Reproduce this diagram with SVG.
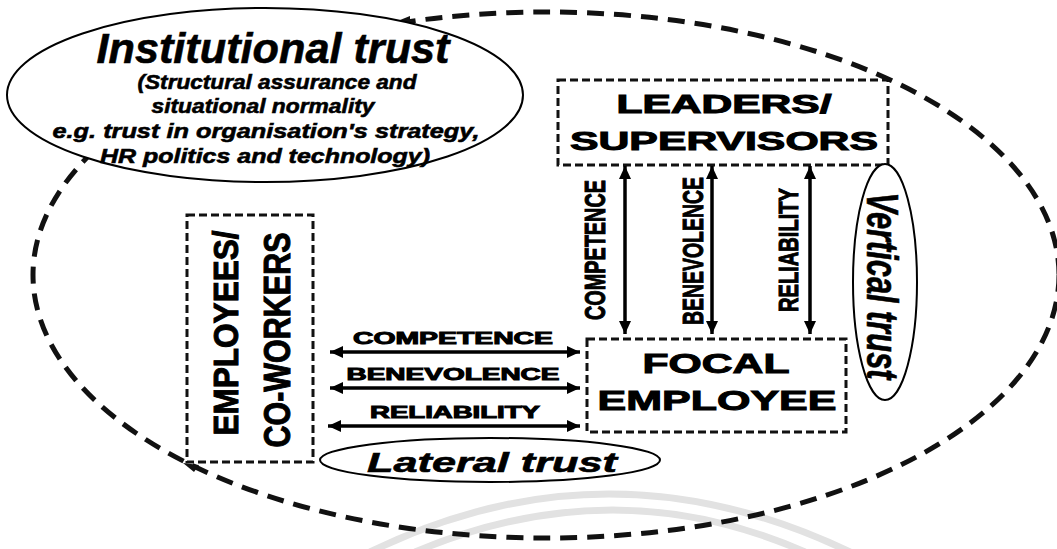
<svg xmlns="http://www.w3.org/2000/svg" width="1057" height="549" viewBox="0 0 1057 549">
<style>
  .bg{fill:#fff}
  .water{fill:none;stroke:#e2e2e2;stroke-width:7}
  .big{fill:none;stroke:#111;stroke-width:5;stroke-dasharray:17 10}
  .box{fill:none;stroke:#111;stroke-width:3;stroke-dasharray:8 4}
  .oval{fill:#fff;stroke:#000;stroke-width:2}
  .arrow{fill:none;stroke:#000;stroke-width:3.5;marker-start:url(#ah);marker-end:url(#ah)}
  .t{font-family:"Liberation Sans",Arial,sans-serif;fill:#000}
  .bi{font-weight:bold;font-style:italic;stroke:#000;stroke-width:0.6}
  .b{font-weight:bold;stroke:#000;stroke-width:1}
</style>
<defs>
  <marker id="ah" markerUnits="userSpaceOnUse" markerWidth="14" markerHeight="12" refX="13" refY="6" orient="auto-start-reverse">
    <path d="M0,0 L13,6 L0,12 Z" fill="#000"/>
  </marker>
</defs>
<rect class="bg" width="1057" height="549"/>
<g id="watermark">
  <path class="water" d="M370,552 Q608,436 850,552"/>
  <path class="water" d="M415,552 Q615,468 805,552"/>
</g>
<g id="boundary">
  <ellipse class="big" cx="546" cy="275" rx="513" ry="263"/>
  <path d="M183,463 L199,465 L194,472 Z" fill="#111"/>
  <path d="M395,22 L410,16 L410,26 Z" fill="#111"/>
</g>
<g id="institutional-trust">
  <ellipse class="oval" cx="265" cy="95" rx="258" ry="87" stroke-width="1.5"/>
  <text class="t bi" x="273" y="63" font-size="43" text-anchor="middle" textLength="353" lengthAdjust="spacingAndGlyphs" stroke-width="0.4">Institutional trust</text>
  <text class="t bi" x="277" y="89" font-size="21" text-anchor="middle" textLength="279" lengthAdjust="spacingAndGlyphs">(Structural assurance and</text>
  <text class="t bi" x="263" y="113" font-size="21" text-anchor="middle" textLength="223" lengthAdjust="spacingAndGlyphs">situational normality</text>
  <text class="t bi" x="266" y="138" font-size="21" text-anchor="middle" textLength="427" lengthAdjust="spacingAndGlyphs">e.g. trust in organisation's strategy,</text>
  <text class="t bi" x="265" y="163" font-size="21" text-anchor="middle" textLength="330" lengthAdjust="spacingAndGlyphs">HR politics and technology)</text>
</g>
<g id="leaders">
  <rect class="box" x="558" y="80" width="330" height="85"/>
  <text class="t b" x="724" y="113" font-size="25" text-anchor="middle" textLength="215" lengthAdjust="spacingAndGlyphs">LEADERS/</text>
  <text class="t b" x="724" y="150" font-size="26" text-anchor="middle" textLength="308" lengthAdjust="spacingAndGlyphs">SUPERVISORS</text>
</g>
<g id="focal-employee">
  <rect class="box" x="587" y="339" width="259" height="93"/>
  <text class="t b" x="716" y="373" font-size="28" text-anchor="middle" textLength="147" lengthAdjust="spacingAndGlyphs">FOCAL</text>
  <text class="t b" x="717" y="410" font-size="28" text-anchor="middle" textLength="239" lengthAdjust="spacingAndGlyphs">EMPLOYEE</text>
</g>
<g id="employees">
  <rect class="box" x="187" y="215" width="126" height="247"/>
  <text class="t b" transform="translate(238,333) rotate(-90)" font-size="35" text-anchor="middle" textLength="205" lengthAdjust="spacingAndGlyphs">EMPLOYEES/</text>
  <text class="t b" transform="translate(290,340) rotate(-90)" font-size="37" text-anchor="middle" textLength="215" lengthAdjust="spacingAndGlyphs">CO-WORKERS</text>
</g>
<g id="lateral-trust">
  <ellipse class="oval" cx="490" cy="460" rx="170" ry="22"/>
  <text class="t bi" x="492" y="472" font-size="28" text-anchor="middle" textLength="250" lengthAdjust="spacingAndGlyphs">Lateral trust</text>
</g>
<g id="vertical-trust">
  <ellipse class="oval" cx="885" cy="282" rx="32" ry="118"/>
  <text class="t bi" transform="translate(867,286) rotate(90)" font-size="44" text-anchor="middle" textLength="187" lengthAdjust="spacingAndGlyphs">Vertical trust</text>
</g>
<g id="connectors">
  <line class="arrow" x1="330" y1="352" x2="580" y2="352"/>
  <line class="arrow" x1="330" y1="388" x2="580" y2="388"/>
  <line class="arrow" x1="328" y1="426" x2="580" y2="426" stroke="#333"/>
  <line class="arrow" x1="625" y1="166" x2="625" y2="334"/>
  <line class="arrow" x1="712" y1="166" x2="712" y2="334"/>
  <line class="arrow" x1="810" y1="166" x2="810" y2="334"/>
  <text class="t b" x="453" y="344" font-size="17" text-anchor="middle" textLength="200" lengthAdjust="spacingAndGlyphs">COMPETENCE</text>
  <text class="t b" x="453" y="380" font-size="17" text-anchor="middle" textLength="213" lengthAdjust="spacingAndGlyphs">BENEVOLENCE</text>
  <text class="t b" x="455" y="418" font-size="17" text-anchor="middle" textLength="170" lengthAdjust="spacingAndGlyphs" fill="#333" stroke="#333">RELIABILITY</text>
  <text class="t b" transform="translate(605,250) rotate(-90)" font-size="29" text-anchor="middle" textLength="140" lengthAdjust="spacingAndGlyphs">COMPETENCE</text>
  <text class="t b" transform="translate(703,251) rotate(-90)" font-size="30" text-anchor="middle" textLength="148" lengthAdjust="spacingAndGlyphs">BENEVOLENCE</text>
  <text class="t b" transform="translate(798,250) rotate(-90)" font-size="27" text-anchor="middle" textLength="124" lengthAdjust="spacingAndGlyphs">RELIABILITY</text>
</g>
</svg>
